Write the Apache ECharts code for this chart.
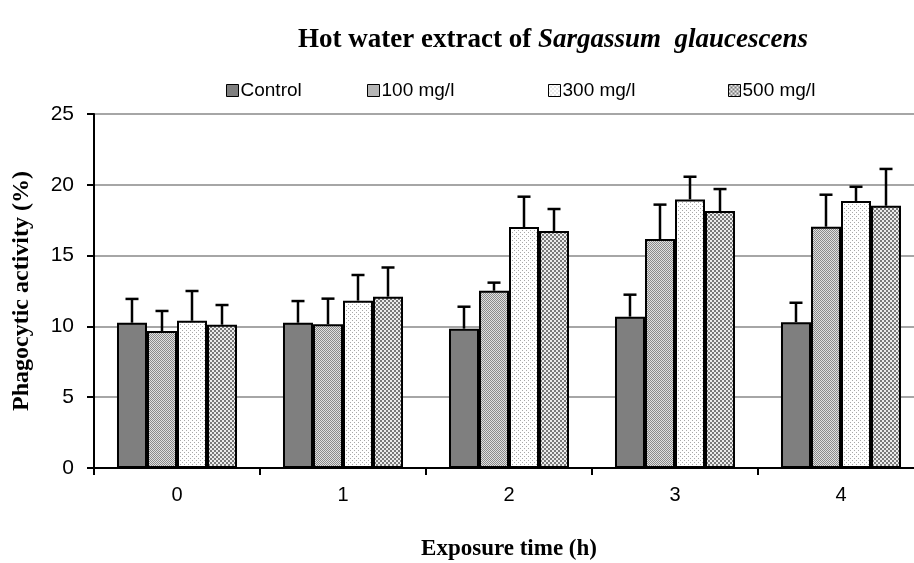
<!DOCTYPE html>
<html>
<head>
<meta charset="utf-8">
<script src="https://cdn.jsdelivr.net/npm/echarts@6/dist/echarts.min.js"></script>
<style>html,body{margin:0;padding:0;background:#fff;overflow:hidden}#c{width:914px;height:563px}</style>
</head>
<body>
<div id="c"></div>
<script>
const categories = ['0', '1', '2', '3', '4'];
const seriesNames = ['Control', '100 mg/l', '300 mg/l', '500 mg/l'];
const controlValues = [10.26, 10.26, 9.84, 10.69, 10.3];
const controlErrors = [1.68, 1.53, 1.55, 1.55, 1.37];
const mg100Values = [9.67, 10.15, 12.52, 16.17, 17.04];
const mg100Errors = [1.42, 1.81, 0.57, 2.43, 2.26];
const mg300Values = [10.40, 11.82, 17.02, 18.97, 18.86];
const mg300Errors = [2.10, 1.81, 2.14, 1.60, 1.00];
const mg500Values = [10.12, 12.10, 16.74, 18.15, 18.52];
const mg500Errors = [1.39, 2.06, 1.55, 1.55, 2.60];
const yTicks = [0, 5, 10, 15, 20, 25];

const allValues = [controlValues, mg100Values, mg300Values, mg500Values];
const allErrors = [controlErrors, mg100Errors, mg300Errors, mg500Errors];

function makePattern(size, draw) {
  const c = document.createElement('canvas');
  c.width = size; c.height = size;
  const ctx = c.getContext('2d');
  draw(ctx);
  return { image: c, repeat: 'repeat' };
}
const fills = [
  '#7f7f7f',
  makePattern(4, ctx => {
    ctx.fillStyle = '#e0e0e0'; ctx.fillRect(0, 0, 4, 4);
    ctx.fillStyle = '#8a8a8a';
    for (let r = 0; r < 4; r++) { ctx.fillRect(r, r, 1, 1); ctx.fillRect((r + 2) % 4, r, 1, 1); }
  }),
  makePattern(4, ctx => {
    ctx.fillStyle = '#ffffff'; ctx.fillRect(0, 0, 4, 4);
    ctx.fillStyle = '#a8a8a8';
    ctx.fillRect(0, 0, 1, 1); ctx.fillRect(2, 2, 1, 1);
  }),
  makePattern(4, ctx => {
    ctx.fillStyle = '#ececec'; ctx.fillRect(0, 0, 4, 4);
    ctx.fillStyle = '#7a7a7a';
    ctx.fillRect(0, 0, 2, 2); ctx.fillRect(2, 2, 2, 2);
  })
];

const gapFrac = 0.277;
const barSeries = seriesNames.map((n, i) => ({
  name: n,
  type: 'bar',
  data: allValues[i],
  barGap: '0%',
  barCategoryGap: (gapFrac * 100) + '%',
  itemStyle: { color: fills[i], borderColor: '#000', borderWidth: 2 },
  z: 2
}));

const errSeries = seriesNames.map((n, i) => ({
  type: 'custom',
  name: n + ' err',
  z: 5,
  silent: true,
  data: allValues[i].map((v, j) => [j, v, v + allErrors[i][j]]),
  renderItem: function (params, api) {
    const band = api.size([1, 0])[0];
    const barW = band * (1 - gapFrac) / 4;
    const off = (i - 1.5) * barW;
    const base = api.coord([api.value(0), api.value(1)]);
    const top = api.coord([api.value(0), api.value(2)]);
    const x = base[0] + off;
    const cap = 6.5;
    return {
      type: 'group',
      children: [
        { type: 'line', shape: { x1: x, y1: base[1], x2: x, y2: top[1] }, style: { stroke: '#000', lineWidth: 2.5 } },
        { type: 'line', shape: { x1: x - cap, y1: top[1], x2: x + cap, y2: top[1] }, style: { stroke: '#000', lineWidth: 2.5 } }
      ]
    };
  }
}));

const legendLefts = [221, 362, 543, 723];
const legends = seriesNames.map((n, i) => ({
  data: [n],
  left: legendLefts[i],
  top: 76,
  icon: 'rect',
  itemWidth: 12,
  itemHeight: 12,
  itemGap: 0,
  textStyle: { fontFamily: 'Liberation Sans', fontSize: 19, color: '#000', padding: [0, 0, 0, -3] },
  itemStyle: { borderColor: '#000', borderWidth: 1 }
}));

const chart = echarts.init(document.getElementById('c'), null, { renderer: 'canvas' });
chart.setOption({
  animation: false,
  backgroundColor: '#fff',
  title: {
    text: '{b|Hot water extract of }{i|Sargassum  glaucescens}',
    left: 293,
    top: 22,
    textStyle: {
      rich: {
        b: { fontFamily: 'Liberation Serif', fontWeight: 'bold', fontSize: 27, color: '#000' },
        i: { fontFamily: 'Liberation Serif', fontStyle: 'italic', fontSize: 27, color: '#000' }
      }
    }
  },
  legend: legends,
  grid: { left: 94, top: 114, width: 830, height: 354, containLabel: false, outerBoundsMode: 'none' },
  xAxis: {
    type: 'category',
    data: categories,
    name: 'Exposure time (h)',
    nameLocation: 'middle',
    nameGap: 70,
    nameTextStyle: { fontFamily: 'Liberation Serif', fontWeight: 'bold', fontSize: 23, color: '#000' },
    axisLine: { lineStyle: { color: '#000', width: 2 } },
    axisTick: { show: true, alignWithLabel: false, length: 7, lineStyle: { color: '#000', width: 2 } },
    axisLabel: { fontFamily: 'Liberation Sans', fontSize: 20, color: '#000', margin: 17 },
    splitLine: { show: false }
  },
  yAxis: {
    type: 'value',
    min: yTicks[0],
    max: yTicks[yTicks.length - 1],
    interval: 5,
    name: 'Phagocytic activity (%)',
    nameLocation: 'middle',
    nameGap: 60,
    nameRotate: 90,
    nameTextStyle: { fontFamily: 'Liberation Serif', fontWeight: 'bold', fontSize: 24, color: '#000' },
    axisLine: { show: true, lineStyle: { color: '#000', width: 2 } },
    axisTick: { show: true, length: 7, lineStyle: { color: '#000', width: 2 } },
    axisLabel: { fontFamily: 'Liberation Sans', fontSize: 21, color: '#000', margin: 20 },
    splitLine: { show: true, lineStyle: { color: '#a6a6a6', width: 2 } }
  },
  series: barSeries.concat(errSeries)
});
</script>
</body>
</html>
